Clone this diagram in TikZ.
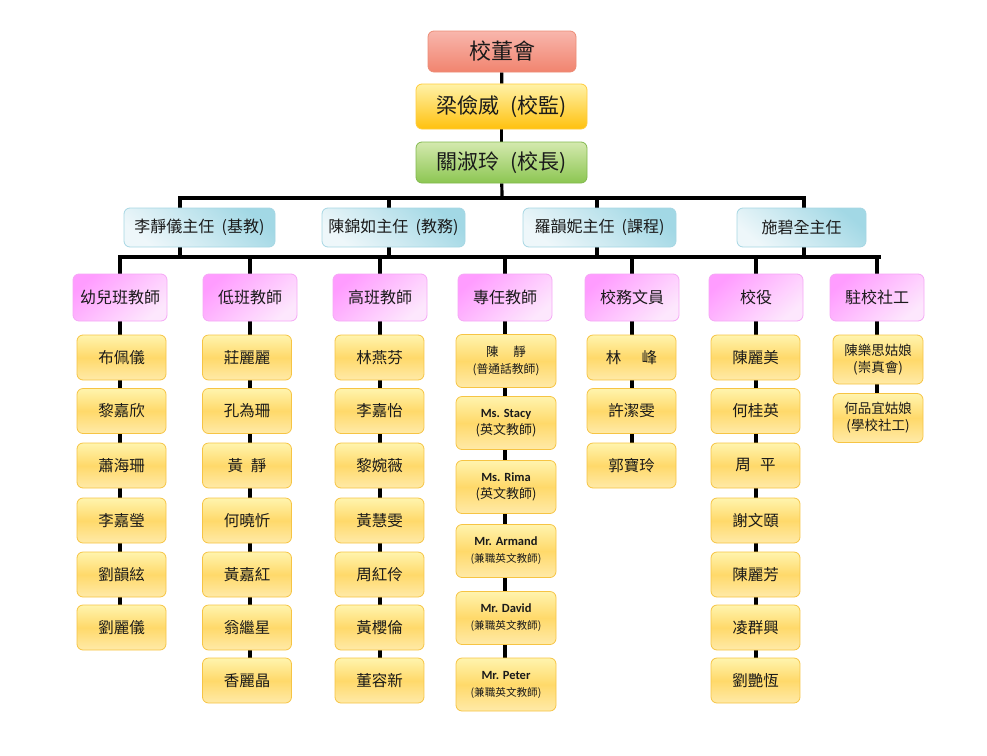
\documentclass[tikz,border=0pt]{standalone}
\usepackage{fontspec}
\setmainfont{Noto Sans CJK TC}
\newfontfamily\lat{Carlito}
\usetikzlibrary{backgrounds}
\definecolor{salT}{HTML}{F8B6AC}
\definecolor{salD}{HTML}{F1846F}
\definecolor{salB}{HTML}{EC8C76}
\definecolor{orT}{HTML}{FFF2A8}
\definecolor{orD}{HTML}{FFC10E}
\definecolor{orB}{HTML}{FFCB3A}
\definecolor{grT}{HTML}{D4E9AE}
\definecolor{grD}{HTML}{8CC652}
\definecolor{grB}{HTML}{82B94E}
\definecolor{blD}{HTML}{A2D8E5}
\definecolor{blL}{HTML}{EEF7FA}
\definecolor{blB}{HTML}{A6D6E3}
\definecolor{pkD}{HTML}{FF9CFF}
\definecolor{pkL}{HTML}{FDE7FD}
\definecolor{pkB}{HTML}{F5A8F5}
\definecolor{itT}{HTML}{FFF4AE}
\definecolor{itM}{HTML}{FFD96A}
\definecolor{itL}{HTML}{FFEAA8}
\definecolor{itB}{HTML}{F6C444}
\definecolor{txt}{HTML}{1A1A1A}
\begin{document}
\begin{tikzpicture}[x=1pt,y=-1pt,
  box/.style={rounded corners=6pt, line width=0.8pt, align=center, inner sep=0pt, text=txt},
  board/.style={box, draw=salB, top color=salT, bottom color=salD, minimum width=148pt, minimum height=41pt, font=\fontsize{22}{24}\selectfont},
  supbox/.style={box, draw=orB, top color=orT, bottom color=orD, minimum width=171pt, minimum height=45pt, font=\fontsize{21}{24}\selectfont},
  prinbox/.style={box, draw=grB, top color=grT, bottom color=grD, minimum width=171pt, minimum height=41pt, font=\fontsize{21}{24}\selectfont},
  dirbox/.style={box, draw=blB, top color=blD, bottom color=blL, shading angle=-40, minimum height=39pt, font=\fontsize{16}{18}\selectfont},
  headbox/.style={box, draw=pkB, top color=pkD, bottom color=pkL, shading angle=40, minimum width=94pt, minimum height=47pt, font=\fontsize{16}{18}\selectfont},
  item/.style={box, draw=itB, top color=itT, bottom color=itL, middle color=itM, minimum width=89pt, minimum height=45pt, font=\fontsize{15.5}{18}\selectfont},
  itemsp/.style={item, minimum width=100pt, minimum height=53pt, font=\fontsize{12.5}{17}\selectfont},
  itemsw/.style={item, minimum width=90pt, minimum height=49pt, font=\fontsize{13.5}{17}\selectfont},
  link/.style={line width=3.2pt, black}]
\useasboundingbox (0,0) rectangle (987,755);

% top chain
\node[board]   (board) at (502,51.5)  {校董會};
\node[supbox]  (sup)   at (501.5,106.5) {梁儉威\hspace{0.55em}(校監)};
\node[prinbox] (prin)  at (501.5,162.5) {關淑玲\hspace{0.55em}(校長)};

% directors
\node[dirbox, minimum width=151pt] (d1) at (199.5,227.5) {李靜儀主任\hspace{0.45em}(基教)};
\node[dirbox, minimum width=143pt] (d2) at (393.5,227.5) {陳錦如主任\hspace{0.45em}(教務)};
\node[dirbox, minimum width=153pt] (d3) at (599.5,227.5) {羅韻妮主任\hspace{0.45em}(課程)};
\node[dirbox, minimum width=129pt] (d4) at (801.5,227.5) {施碧全主任};

% bar coordinates
\coordinate (top) at (502,198);
\coordinate (t1) at (180,198);
\coordinate (t2) at (389,198);
\coordinate (t3) at (597,198);
\coordinate (t4) at (804,198);
\coordinate (m1) at (180,257);
\coordinate (m2) at (389,257);
\coordinate (m3) at (597,257);
\coordinate (m4) at (804,257);
\coordinate (bl) at (120,257);
\coordinate (br) at (879,257);

% headers
\node[headbox] (h1) at (120,297.5) {幼兒班教師};
\node[headbox] (h2) at (250,297.5) {低班教師};
\node[headbox] (h3) at (380,297.5) {高班教師};
\node[headbox] (h4) at (505,297.5) {專任教師};
\node[headbox] (h5) at (632,297.5) {校務文員};
\node[headbox] (h6) at (756,297.5) {校役};
\node[headbox] (h7) at (877,297.5) {駐校社工};

\def\rows{{357.5,411,465.5,520.5,574.5,627.5,680.5}}
\foreach \n [count=\i] in {布佩儀,黎嘉欣,蕭海珊,李嘉瑩,劉韻絃,劉麗儀}
  {\pgfmathsetmacro\yy{\rows[\i-1]}\node[item] (a\i) at (121.5,\yy) {\n};}
\foreach \n [count=\i] in {莊麗麗,孔為珊,黃\hspace{0.5em}靜,何曉忻,黃嘉紅,翁繼星,香麗晶}
  {\pgfmathsetmacro\yy{\rows[\i-1]}\node[item] (b\i) at (247,\yy) {\n};}
\foreach \n [count=\i] in {林燕芬,李嘉怡,黎婉薇,黃慧雯,周紅伶,黃櫻倫,董容新}
  {\pgfmathsetmacro\yy{\rows[\i-1]}\node[item] (c\i) at (379.5,\yy) {\n};}
\foreach \n [count=\i] in {林\hspace{1.3em}峰,許潔雯,郭寶玲}
  {\pgfmathsetmacro\yy{\rows[\i-1]}\node[item] (e\i) at (631.5,\yy) {\n};}
\foreach \n [count=\i] in {陳麗美,何桂英,周\hspace{0.6em}平,謝文頤,陳麗芳,凌群興,劉艷恆}
  {\pgfmathsetmacro\yy{\rows[\i-1]}\node[item] (f\i) at (755.5,\yy) {\n};}

% special teachers
\node[itemsp] (s1) at (506,361)   {陳\hspace{1.2em}靜\\{\fontsize{11.8}{17}\selectfont(普通話教師)}};
\node[itemsp] (s2) at (506,423)   {{\lat\bfseries Ms. Stacy}\\{\fontsize{13}{17}\selectfont(英文教師)}};
\node[itemsp] (s3) at (506,487)   {{\lat\bfseries Ms. Rima}\\{\fontsize{13}{17}\selectfont(英文教師)}};
\node[itemsp] (s4) at (506,551)   {{\lat\bfseries Mr. Armand}\\{\fontsize{10.6}{17}\selectfont(兼職英文教師)}};
\node[itemsp] (s5) at (506,618)   {{\lat\bfseries Mr. David}\\{\fontsize{10.6}{17}\selectfont(兼職英文教師)}};
\node[itemsp] (s6) at (506,684.5) {{\lat\bfseries Mr. Peter}\\{\fontsize{10.6}{17}\selectfont(兼職英文教師)}};

% social workers
\node[itemsw] (g1) at (878,359.5) {陳樂思姑娘\\(崇真會)};
\node[itemsw] (g2) at (878,418)   {何品宜姑娘\\(學校社工)};

\begin{scope}[on background layer]
  \draw[link] (board) -- (sup);
  \draw[link] (sup) -- (prin);
  \draw[link] (prin) -- (top);
  \draw[link, line cap=rect] (t1) -- (t4);
  \draw[link] (t1) -- (m1);
  \draw[link] (t2) -- (m2);
  \draw[link] (t3) -- (m3);
  \draw[link] (t4) -- (m4);
  \draw[link, line cap=rect] (bl) -- (br);
  \foreach \h/\l in {h1/a6,h2/b7,h3/c7,h4/s6,h5/e3,h6/f7,h7/g2}
    {\draw[link] (\h.north |- bl) -- (\h.south |- \l.north);}
\end{scope}
\end{tikzpicture}
\end{document}
